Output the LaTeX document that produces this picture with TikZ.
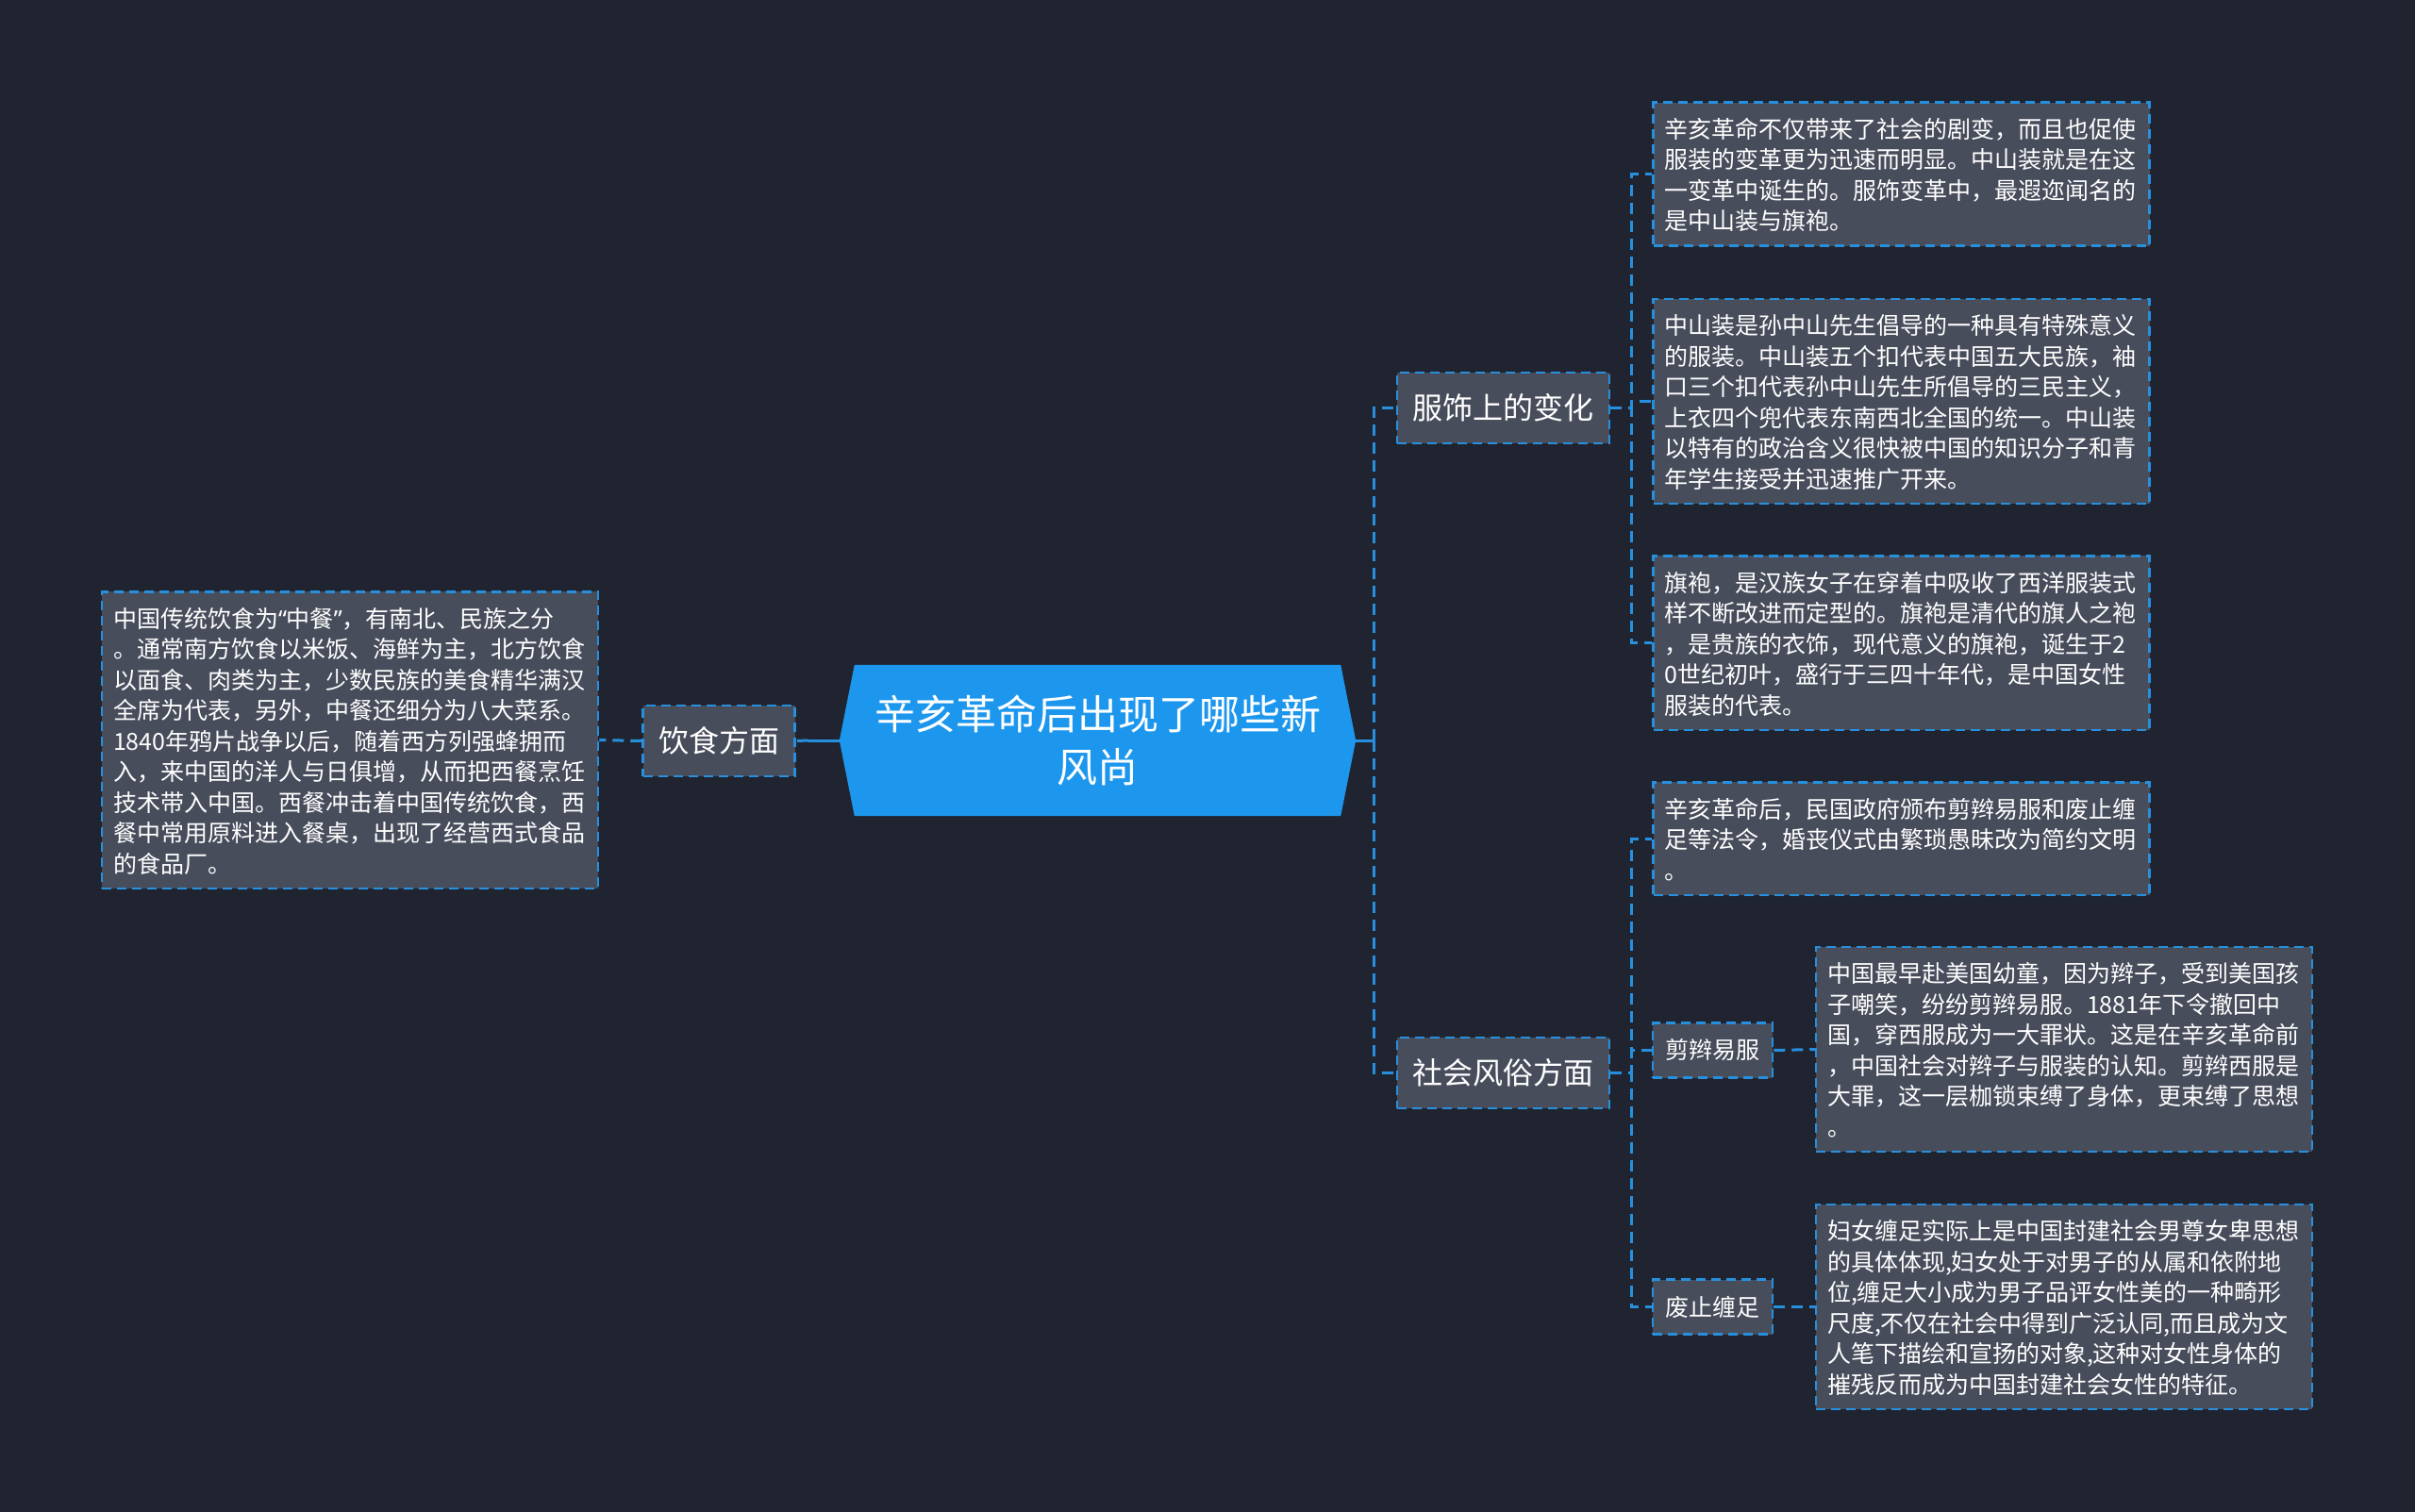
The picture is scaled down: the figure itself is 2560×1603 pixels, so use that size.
\documentclass[tikz,border=0pt]{standalone}
\usepackage{fontspec}
\setmainfont{Noto Sans CJK SC}
\newfontfamily\quotefont{Noto Sans}
\usepackage{tikz}
\usetikzlibrary{positioning, calc, backgrounds}
\usepackage{xcolor}
\definecolor{bgdark}{RGB}{32,36,48}
\definecolor{boxgray}{RGB}{72,77,92}
\definecolor{linkblue}{RGB}{39,144,222}
\definecolor{rootblue}{RGB}{29,151,238}

\begin{document}
\begin{tikzpicture}[x=1pt, y=-1pt,
    every node/.style={text=white},
    boxline/.style={draw=linkblue, fill=boxgray, line width=2.5pt, dash pattern=on 10pt off 6pt},
    leaf/.style={boxline, text width=502pt, align=left, inner xsep=12pt, inner ysep=11pt,
      font=\fontsize{25pt}{32.5pt}\selectfont,
      execute at begin node={\rule{0pt}{26.75pt}},
      execute at end node={\rule[-5.75pt]{0pt}{5.75pt}}},
    branch/.style={boxline, minimum height=75pt, inner xsep=16.5pt, font=\fontsize{32pt}{38pt}\selectfont},
    twig/.style={boxline, minimum height=58pt, inner xsep=13.5pt, font=\fontsize{25pt}{30pt}\selectfont},
    link/.style={draw=linkblue, line width=3pt, dash pattern=on 12pt off 7pt},
    stub/.style={draw=linkblue, line width=3pt}]
  \useasboundingbox (0,0) rectangle (2560,1603);
  % Root
  \node[minimum width=547pt, minimum height=160pt, align=center,
    font=\fontsize{43pt}{56pt}\selectfont] (root) at (1163.5,785) {辛亥革命后出现了哪些新\\风尚};
  % Branches
  \node[branch] (food) at (762,785.5) {饮食方面};
  \node[branch] (dress) at (1593.5,432.5) {服饰上的变化};
  \node[branch] (custom) at (1593.5,1137.5) {社会风俗方面};
  \node[twig] (queue) at (1815.5,1113.5) {剪辫易服};
  \node[twig] (foot) at (1815.5,1385.5) {废止缠足};
  % Leaves
  \node[leaf] (foodtxt) at (371,784.5) {中国传统饮食为{\quotefont“}中餐{\quotefont”}，有南北、民族之分\\
    。通常南方饮食以米饭、海鲜为主，北方饮食\\
    以面食、肉类为主，少数民族的美食精华满汉\\
    全席为代表，另外，中餐还细分为八大菜系。\\
    1840年鸦片战争以后，随着西方列强蜂拥而\\
    入，来中国的洋人与日俱增，从而把西餐烹饪\\
    技术带入中国。西餐冲击着中国传统饮食，西\\
    餐中常用原料进入餐桌，出现了经营西式食品\\
    的食品厂。};
  \node[leaf] (dress1) at (2015.5,184.5) {辛亥革命不仅带来了社会的剧变，而且也促使\\
    服装的变革更为迅速而明显。中山装就是在这\\
    一变革中诞生的。服饰变革中，最遐迩闻名的\\
    是中山装与旗袍。};
  \node[leaf] (dress2) at (2015.5,425.5) {中山装是孙中山先生倡导的一种具有特殊意义\\
    的服装。中山装五个扣代表中国五大民族，袖\\
    口三个扣代表孙中山先生所倡导的三民主义，\\
    上衣四个兜代表东南西北全国的统一。中山装\\
    以特有的政治含义很快被中国的知识分子和青\\
    年学生接受并迅速推广开来。};
  \node[leaf] (dress3) at (2015.5,681.5) {旗袍，是汉族女子在穿着中吸收了西洋服装式\\
    样不断改进而定型的。旗袍是清代的旗人之袍\\
    ，是贵族的衣饰，现代意义的旗袍，诞生于2\\
    0世纪初叶，盛行于三四十年代，是中国女性\\
    服装的代表。};
  \node[leaf] (custom1) at (2015.5,889) {辛亥革命后，民国政府颁布剪辫易服和废止缠\\
    足等法令，婚丧仪式由繁琐愚昧改为简约文明\\
    。};
  \node[leaf] (queuetxt) at (2188,1112.5) {中国最早赴美国幼童，因为辫子，受到美国孩\\
    子嘲笑，纷纷剪辫易服。1881年下令撤回中\\
    国，穿西服成为一大罪状。这是在辛亥革命前\\
    ，中国社会对辫子与服装的认知。剪辫西服是\\
    大罪，这一层枷锁束缚了身体，更束缚了思想\\
    。};
  \node[leaf] (foottxt) at (2188,1385.5) {妇女缠足实际上是中国封建社会男尊女卑思想\\
    的具体体现,妇女处于对男子的从属和依附地\\
    位,缠足大小成为男子品评女性美的一种畸形\\
    尺度,不仅在社会中得到广泛认同,而且成为文\\
    人笔下描绘和宣扬的对象,这种对女性身体的\\
    摧残反而成为中国封建社会女性的特征。};
  % Background and root shape
  \begin{scope}[on background layer]
    \fill[bgdark] (0,0) rectangle (2560,1603);
    \fill[rootblue] (root.west) -- ($(root.north west)+(16,0)$) -- ($(root.north east)+(-16,0)$)
      -- (root.east) -- ($(root.south east)+(-16,0)$) -- ($(root.south west)+(16,0)$) -- cycle;
  \end{scope}
  % Connectors
  \coordinate (rhub) at ($(root.east)+(19,0)$);
  \coordinate (lhub) at ($(root.west)+(-33,0)$);
  \coordinate (dhub) at ($(dress.east)+(22,0)$);
  \coordinate (chub) at ($(custom.east)+(22,0)$);
  \draw[stub] (root.east) -- (rhub);
  \draw[stub] (root.west) -- (lhub);
  \draw[link] (lhub) -- (food.east);
  \draw[link] (food.west) -- (foodtxt.east);
  \foreach \b in {dress,custom}
    \draw[link] (rhub) |- (\b.west);
  \foreach \t in {dress1,dress2,dress3}
    \draw[link] (dress.east) -- (dhub) |- (\t.west);
  \foreach \t in {custom1,queue,foot}
    \draw[link] (custom.east) -- (chub) |- (\t.west);
  \draw[link] (queue.east) -- (queuetxt.west);
  \draw[link] (foot.east) -- (foottxt.west);
\end{tikzpicture}
\end{document}
